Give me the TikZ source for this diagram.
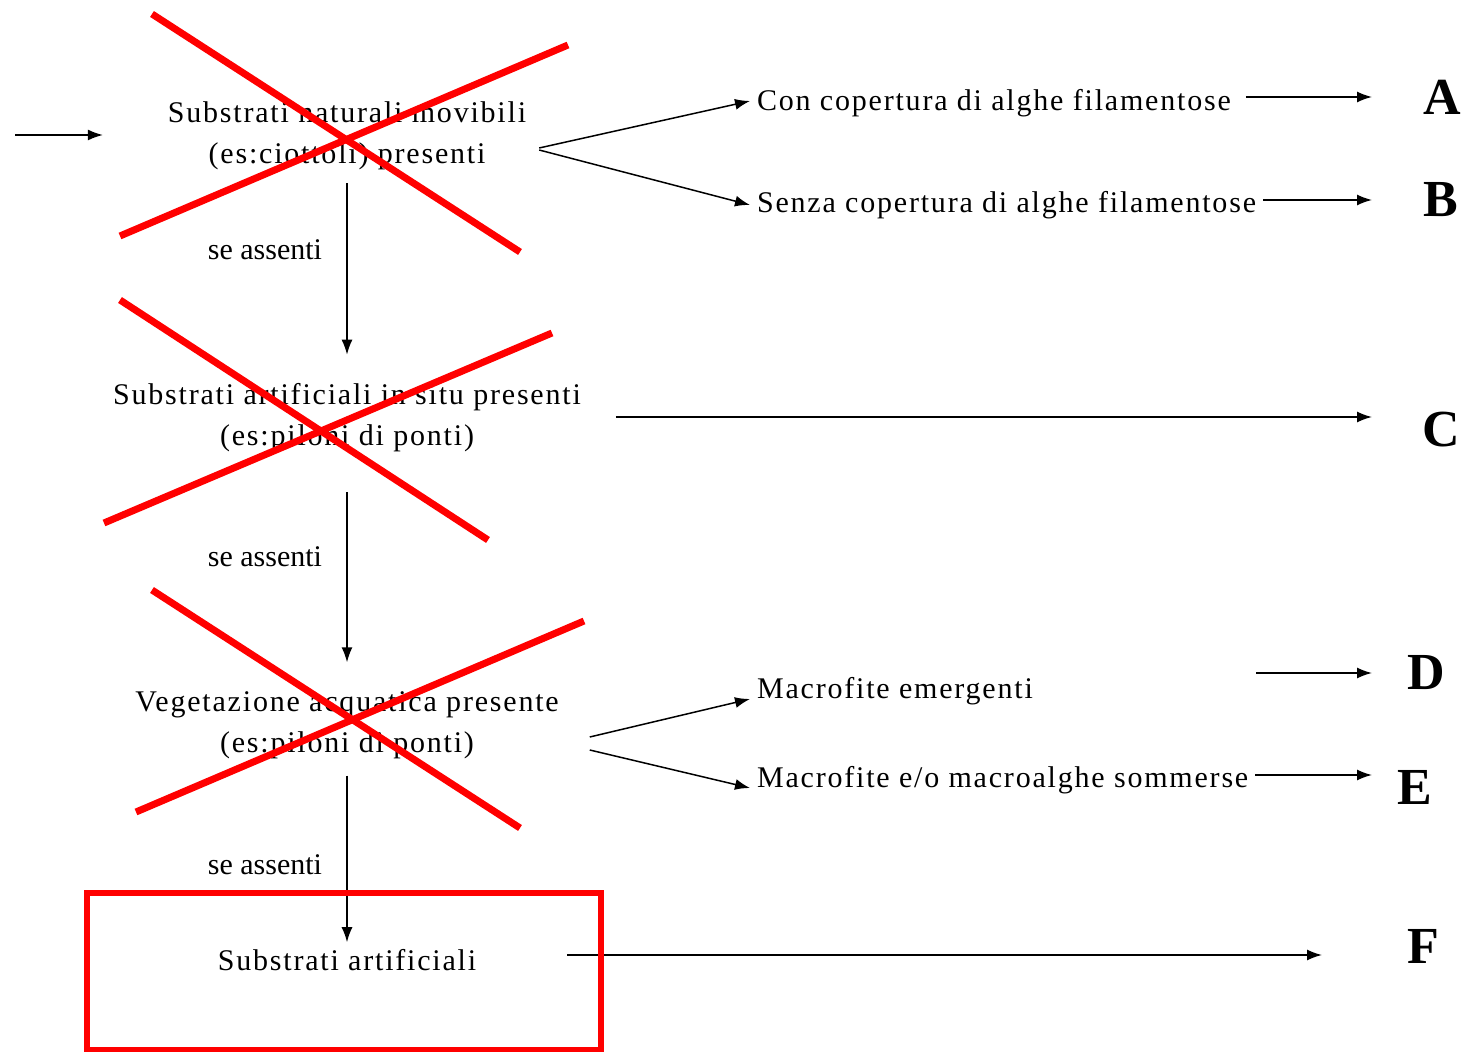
\documentclass[tikz,border=0pt]{standalone}
\usepackage{fontspec}
\setmainfont{Liberation Serif}
\newfontfamily\spacedfont[LetterSpace=6]{Liberation Serif}
\usetikzlibrary{arrows.meta}

\tikzset{
  choice/.style={align=center, font=\spacedfont\fontsize{15}{20.5}\selectfont},
  branch/.style={anchor=west, font=\spacedfont\fontsize{15}{20.5}\selectfont},
  cond/.style={font=\fontsize{15}{18}\selectfont},
  outcome/.style={font=\bfseries\fontsize{26}{30}\selectfont},
  flow/.style={->, black, line width=0.75pt},
  cross/.style={red, line width=3.5pt},
}

\begin{document}
\begin{tikzpicture}[x=0.5pt, y=-0.5pt, >={Latex[length=7.5pt,width=5.5pt]}]
  \useasboundingbox (0,0) rectangle (1466,1052);

  % Decision steps
  \node[choice] (n1) at (347,136) {Substrati naturali movibili\\(es:ciottoli) presenti};
  \node[choice] (n2) at (347,418) {Substrati artificiali in situ presenti\\(es:piloni di ponti)};
  \node[choice] (n3) at (347,725) {Vegetazione acquatica presente\\(es:piloni di ponti)};
  \node[choice] (n4) at (347,960) {Substrati artificiali};

  % Sub-cases
  \node[branch] (a1) at (750,103) {Con copertura di alghe filamentose};
  \node[branch] (b1) at (750,205) {Senza copertura di alghe filamentose};
  \node[branch] (d1) at (750,691) {Macrofite emergenti};
  \node[branch] (e1) at (750,780) {Macrofite e/o macroalghe sommerse};

  % Outcomes
  \node[outcome] (A) at (1442,97) {A};
  \node[outcome] (B) at (1441,200) {B};
  \node[outcome] (C) at (1441,430) {C};
  \node[outcome] (D) at (1426,673) {D};
  \node[outcome] (E) at (1415,787) {E};
  \node[outcome] (F) at (1423,946) {F};

  % Arrow ends
  \coordinate (start) at (15,135);
  \coordinate (endA) at (1372,97);
  \coordinate (endB) at (1372,200);
  \coordinate (endC) at (1372,417);
  \coordinate (startD) at (1256,673);
  \coordinate (endD) at (1372,673);
  \coordinate (endE) at (1372,775);
  \coordinate (endF) at (1322,955);

  % Main chain
  \draw[flow, shorten >=29pt] (start) -- (start -| n1.west);
  \draw[flow, shorten <=3pt, shorten >=11pt] (n1) -- (n2);
  \draw[flow, shorten <=16.5pt, shorten >=11pt] (n2) -- (n3);
  \draw[flow, shorten <=5pt, shorten >=0pt] (n3) -- (n4);
  \node[cond] at (265,250) {se assenti};
  \node[cond] at (265,557) {se assenti};
  \node[cond] at (265,865) {se assenti};

  % Branches
  \draw[flow] ([xshift=3pt,yshift=-6pt]n1.east) -- ([yshift=1pt]a1.west);
  \draw[flow] ([xshift=3pt,yshift=-7pt]n1.east) -- ([yshift=0pt]b1.west);
  \draw[flow] ([xshift=12pt,yshift=-6pt]n3.east) -- ([yshift=-4pt]d1.west);
  \draw[flow] ([xshift=12pt,yshift=-12.5pt]n3.east) -- ([yshift=-4pt]e1.west);

  % To outcomes
  \draw[flow] ([xshift=4pt]a1.east |- endA) -- (endA);
  \draw[flow] (b1.east |- endB) -- (endB);
  \draw[flow] ([xshift=14pt]n2.east |- endC) -- (endC);
  \draw[flow] (startD) -- (endD);
  \draw[flow] (e1.east |- endE) -- (endE);
  \draw[flow] ([xshift=42pt]n4.east |- endF) -- (endF);

  % Red marks
  \draw[cross] (152,14) -- (520,252);
  \draw[cross] (120,236) -- (568,45);
  \draw[cross] (120,300) -- (488,540);
  \draw[cross] (104,523) -- (552,333);
  \draw[cross] (152,590) -- (520,828);
  \draw[cross] (136,812) -- (584,621);
  \draw[red, line width=3pt] (87,893) rectangle (601,1050);
\end{tikzpicture}
\end{document}
